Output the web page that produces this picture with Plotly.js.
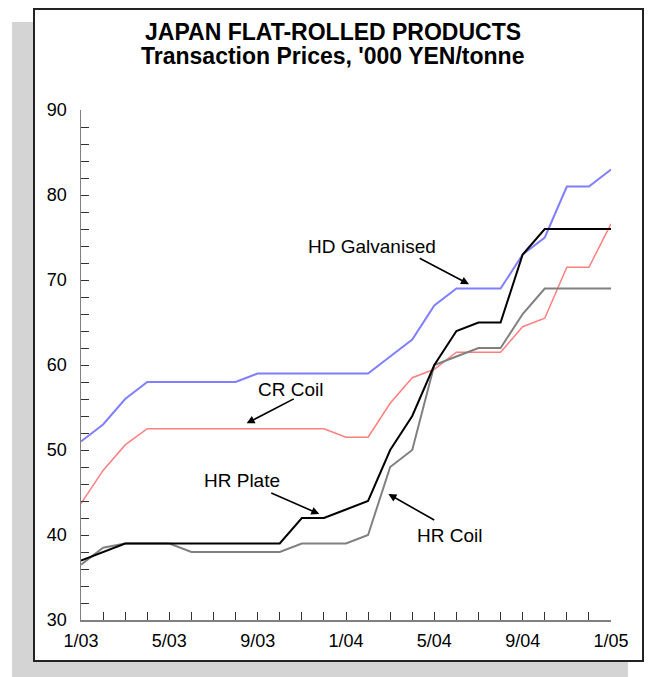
<!DOCTYPE html>
<html>
<head>
<meta charset="utf-8">
<script src="https://cdn.plot.ly/plotly-3.0.1.min.js"></script>
<style>
  html, body { margin: 0; padding: 0; background: #ffffff; }
  #wrap { position: relative; width: 650px; height: 677px; overflow: hidden; }
  #shadow { position: absolute; left: 12px; top: 22px; width: 616px; height: 660px; background: #d4d4d4; }
  #frame { position: absolute; left: 33px; top: 8px; width: 607px; height: 650px; background: #ffffff; border: 2px solid #222222; }
  #chart { position: absolute; left: 0; top: 0; width: 650px; height: 677px; }
</style>
</head>
<body>
<div id="wrap">
  <div id="shadow"></div>
  <div id="frame"></div>
  <div id="chart"></div>
</div>
<script>
// Months from 1/03 to 1/05
const months = ["1/03","2/03","3/03","4/03","5/03","6/03","7/03","8/03","9/03","10/03","11/03","12/03",
                "1/04","2/04","3/04","4/04","5/04","6/04","7/04","8/04","9/04","10/04","11/04","12/04","1/05"];

const hdGalvanised = [51, 53, 56, 58, 58, 58, 58, 58, 59, 59, 59, 59, 59, 59, 61, 63, 67, 69, 69, 69, 73, 75, 81, 81, 83];
const crCoil       = [43.7, 47.6, 50.6, 52.5, 52.5, 52.5, 52.5, 52.5, 52.5, 52.5, 52.5, 52.5, 51.5, 51.5, 55.5, 58.5, 59.5, 61.5, 61.5, 61.5, 64.5, 65.5, 71.5, 71.5, 76.6];
const hrPlate      = [37, 38, 39, 39, 39, 39, 39, 39, 39, 39, 42, 42, 43, 44, 50, 54, 60, 64, 65, 65, 73, 76, 76, 76, 76];
const hrCoil       = [36.5, 38.5, 39, 39, 39, 38, 38, 38, 38, 38, 39, 39, 39, 40, 48, 50, 60, 61, 62, 62, 66, 69, 69, 69, 69];

const titleLines = ["JAPAN FLAT-ROLLED PRODUCTS", "Transaction Prices, '000 YEN/tonne"];

const xIdx = months.map((m, i) => i);
const xTickText = months.map((m, i) => (i % 4 === 0 ? m : ""));
const yTickVals = [];
for (let v = 30; v <= 90; v += 2) yTickVals.push(v);
const yTickText = yTickVals.map(v => (v % 10 === 0 ? String(v) : ""));

const FONT = "Liberation Sans, Arial, sans-serif";

const traces = [
  { x: xIdx, y: hdGalvanised, name: "HD Galvanised", mode: "lines", line: { color: "#7f7fff", width: 2 } },
  { x: xIdx, y: crCoil, name: "CR Coil", mode: "lines", line: { color: "#ff7f7f", width: 1.5 } },
  { x: xIdx, y: hrCoil, name: "HR Coil", mode: "lines", line: { color: "#808080", width: 2 } },
  { x: xIdx, y: hrPlate, name: "HR Plate", mode: "lines", line: { color: "#000000", width: 2 } }
];

function label(text, x, y) {
  return { text: text, x: x, y: y, xref: "x", yref: "y", showarrow: false,
           font: { family: FONT, size: 19, color: "#000" }, xanchor: "center", yanchor: "middle" };
}
function arrow(tx, ty, hx, hy) {
  return { text: " ", x: hx, y: hy, ax: tx, ay: ty, xref: "x", yref: "y", axref: "x", ayref: "y",
           showarrow: true, arrowhead: 2, arrowsize: 1, arrowwidth: 1.6, arrowcolor: "#000", standoff: 0, startstandoff: 0 };
}
function titleLine(text, yPaper) {
  return { text: "<b>" + text + "</b>", xref: "paper", yref: "paper", x: 0.475, y: yPaper,
           xanchor: "center", yanchor: "middle", showarrow: false,
           font: { family: FONT, size: 23, color: "#000" } };
}

const layout = {
  width: 650, height: 677,
  paper_bgcolor: "rgba(0,0,0,0)",
  plot_bgcolor: "rgba(0,0,0,0)",
  margin: { l: 81, r: 39, t: 110, b: 57, pad: 0 },
  showlegend: false,
  xaxis: {
    range: [0, 24], showgrid: false, zeroline: false,
    showline: true, linecolor: "#808080", linewidth: 1.5,
    tickmode: "array", tickvals: xIdx, ticktext: xTickText,
    ticks: "inside", ticklen: 8, tickcolor: "#333", tickwidth: 1,
    ticklabelstandoff: 4,
    tickfont: { family: FONT, size: 18, color: "#000" }
  },
  yaxis: {
    range: [30, 90], showgrid: false, zeroline: false,
    showline: true, linecolor: "#808080", linewidth: 1.5,
    tickmode: "array", tickvals: yTickVals, ticktext: yTickText,
    ticks: "inside", ticklen: 8, tickcolor: "#333", tickwidth: 1,
    ticklabelstandoff: 9,
    tickfont: { family: FONT, size: 18, color: "#000" }
  },
  annotations: [
    titleLine(titleLines[0], 1.1529),
    titleLine(titleLines[1], 1.1059),
    label("HD Galvanised", 13.18, 74.0),
    label("CR Coil", 9.49, 57.14),
    label("HR Plate", 7.30, 46.39),
    label("HR Coil", 16.70, 40.0),
    arrow(15.2, 72.74, 17.57, 69.5),
    arrow(9.77, 56.2, 7.5, 53.14),
    arrow(8.48, 45.09, 10.79, 42.47),
    arrow(16.13, 41.56, 13.92, 44.82)
  ]
};

Plotly.newPlot("chart", traces, layout, { displayModeBar: false, staticPlot: true });
</script>
</body>
</html>
